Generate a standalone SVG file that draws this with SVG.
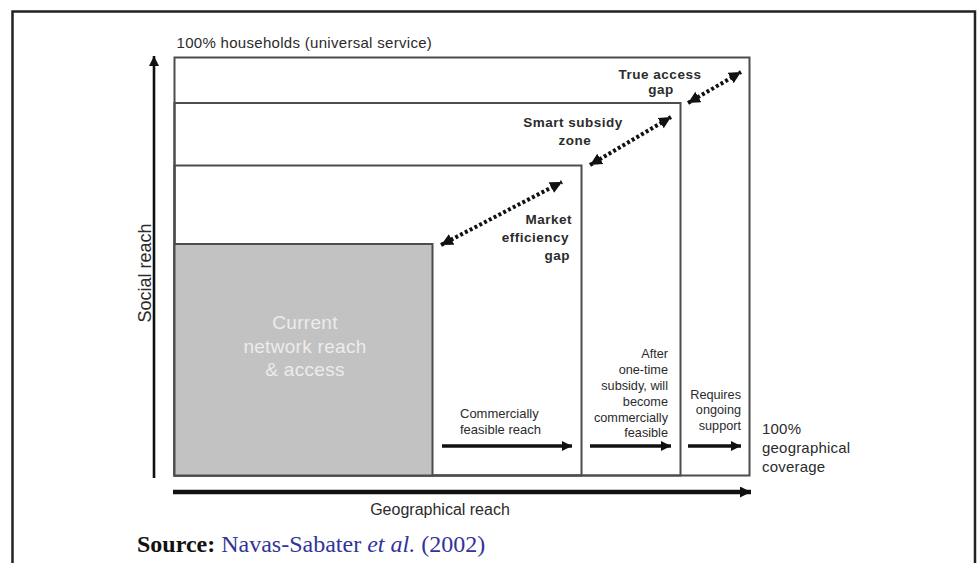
<svg xmlns="http://www.w3.org/2000/svg" width="977" height="563" viewBox="0 0 977 563">
<defs>
<marker id="head" viewBox="0 0 10 10" refX="10" refY="5" markerWidth="11" markerHeight="10" markerUnits="userSpaceOnUse" orient="auto-start-reverse"><path d="M0,0 L10,5 L0,10 z" fill="#111"/></marker>
<marker id="headL" viewBox="0 0 10 10" refX="10" refY="5" markerWidth="12" markerHeight="11" markerUnits="userSpaceOnUse" orient="auto-start-reverse"><path d="M0,0 L10,5 L0,10 z" fill="#111"/></marker>
<marker id="headD" viewBox="0 0 10 10" refX="10" refY="5" markerWidth="12" markerHeight="12" markerUnits="userSpaceOnUse" orient="auto-start-reverse"><path d="M0,0 L10,5 L0,10 z" fill="#111"/></marker>
<style>
.box{fill:none;stroke:#4d4d4d;stroke-width:2}
.lbl{font-family:"Liberation Sans",Arial,sans-serif;fill:#2b2b2b}
.b{font-weight:bold;font-size:13.5px;letter-spacing:0.5px}
.s{font-size:12.7px}
.dash{stroke:#111;stroke-width:4;stroke-dasharray:3 2.4;fill:none}
.solid{stroke:#111;stroke-width:3.5;fill:none}
</style>
</defs>
<rect width="977" height="563" fill="#fff"/>
<path d="M12.5,563 V11.5 H975 V563" fill="none" stroke="#222" stroke-width="2.5"/>

<g id="title"><text class="lbl" x="176.5" y="47.5" font-size="15" letter-spacing="0.3">100% households (universal service)</text></g>

<g id="zone-universal"><rect class="box" x="174.5" y="57.5" width="575" height="418"/></g>
<g id="zone-smart"><rect class="box" x="174.5" y="103" width="506" height="372.5"/></g>
<g id="zone-market"><rect class="box" x="174.5" y="165.5" width="407" height="310"/></g>
<g id="current">
<rect x="174.5" y="244" width="258" height="231.5" fill="#c2c2c2" stroke="#4d4d4d" stroke-width="2"/>
<text class="lbl" x="305" font-size="19" letter-spacing="0.3" text-anchor="middle" style="fill:#ececec"><tspan x="305" y="329">Current</tspan><tspan x="305" y="352.5">network reach</tspan><tspan x="305" y="375.5">&amp; access</tspan></text>
</g>

<g id="label-true"><text class="lbl b" text-anchor="middle"><tspan x="660" y="79">True access</tspan><tspan x="661" y="94">gap</tspan></text></g>
<g id="label-smart"><text class="lbl b" text-anchor="middle"><tspan x="573" y="127">Smart subsidy</tspan><tspan x="575" y="145">zone</tspan></text></g>
<g id="label-market"><text class="lbl b" text-anchor="end"><tspan x="572" y="224">Market</tspan><tspan x="569" y="242">efficiency</tspan><tspan x="570" y="260">gap</tspan></text></g>

<g id="label-commercial"><text class="lbl" font-size="13" text-anchor="start"><tspan x="460" y="418">Commercially</tspan><tspan x="460" y="434">feasible reach</tspan></text></g>
<g id="label-after"><text class="lbl s" text-anchor="end"><tspan x="668" y="358">After</tspan><tspan x="668" y="374">one-time</tspan><tspan x="668" y="390">subsidy, will</tspan><tspan x="668" y="406">become</tspan><tspan x="668" y="421.5">commercially</tspan><tspan x="668" y="437">feasible</tspan></text></g>
<g id="label-requires"><text class="lbl s" text-anchor="end"><tspan x="741" y="399">Requires</tspan><tspan x="741" y="414">ongoing</tspan><tspan x="741" y="430">support</tspan></text></g>
<g id="label-coverage"><text class="lbl" font-size="15" letter-spacing="0.2"><tspan x="762" y="434">100%</tspan><tspan x="762" y="453">geographical</tspan><tspan x="762" y="472">coverage</tspan></text></g>

<g id="axis-y-label"><text class="lbl" font-size="18" text-anchor="middle" transform="translate(151,273) rotate(-90)">Social reach</text></g>
<g id="axis-x-label"><text class="lbl" font-size="16" x="440" y="515" text-anchor="middle">Geographical reach</text></g>

<g id="connectors">
<line x1="154" y1="478" x2="154" y2="56" stroke="#111" stroke-width="2.6" marker-end="url(#head)"/>
<line x1="173" y1="492" x2="751" y2="492" stroke="#111" stroke-width="4.5" marker-end="url(#headL)"/>
<line class="solid" x1="442" y1="446" x2="572" y2="446" marker-end="url(#head)"/>
<line class="solid" x1="590" y1="446" x2="671" y2="446" marker-end="url(#head)"/>
<line class="solid" x1="688" y1="446" x2="741" y2="446" marker-end="url(#head)"/>
<line class="dash" x1="441" y1="245" x2="562" y2="182" marker-start="url(#headD)" marker-end="url(#headD)"/>
<line class="dash" x1="590" y1="165" x2="671" y2="117" marker-start="url(#headD)" marker-end="url(#headD)"/>
<line class="dash" x1="688" y1="103" x2="741" y2="72" marker-start="url(#headD)" marker-end="url(#headD)"/>
</g>

<g id="source"><text font-family="'Liberation Serif','Times New Roman',serif" font-size="24" x="137" y="552"><tspan font-weight="bold" fill="#111">Source:</tspan><tspan fill="#333399"> Navas-Sabater </tspan><tspan fill="#333399" font-style="italic">et al.</tspan><tspan fill="#333399"> (2002)</tspan></text></g>
</svg>
